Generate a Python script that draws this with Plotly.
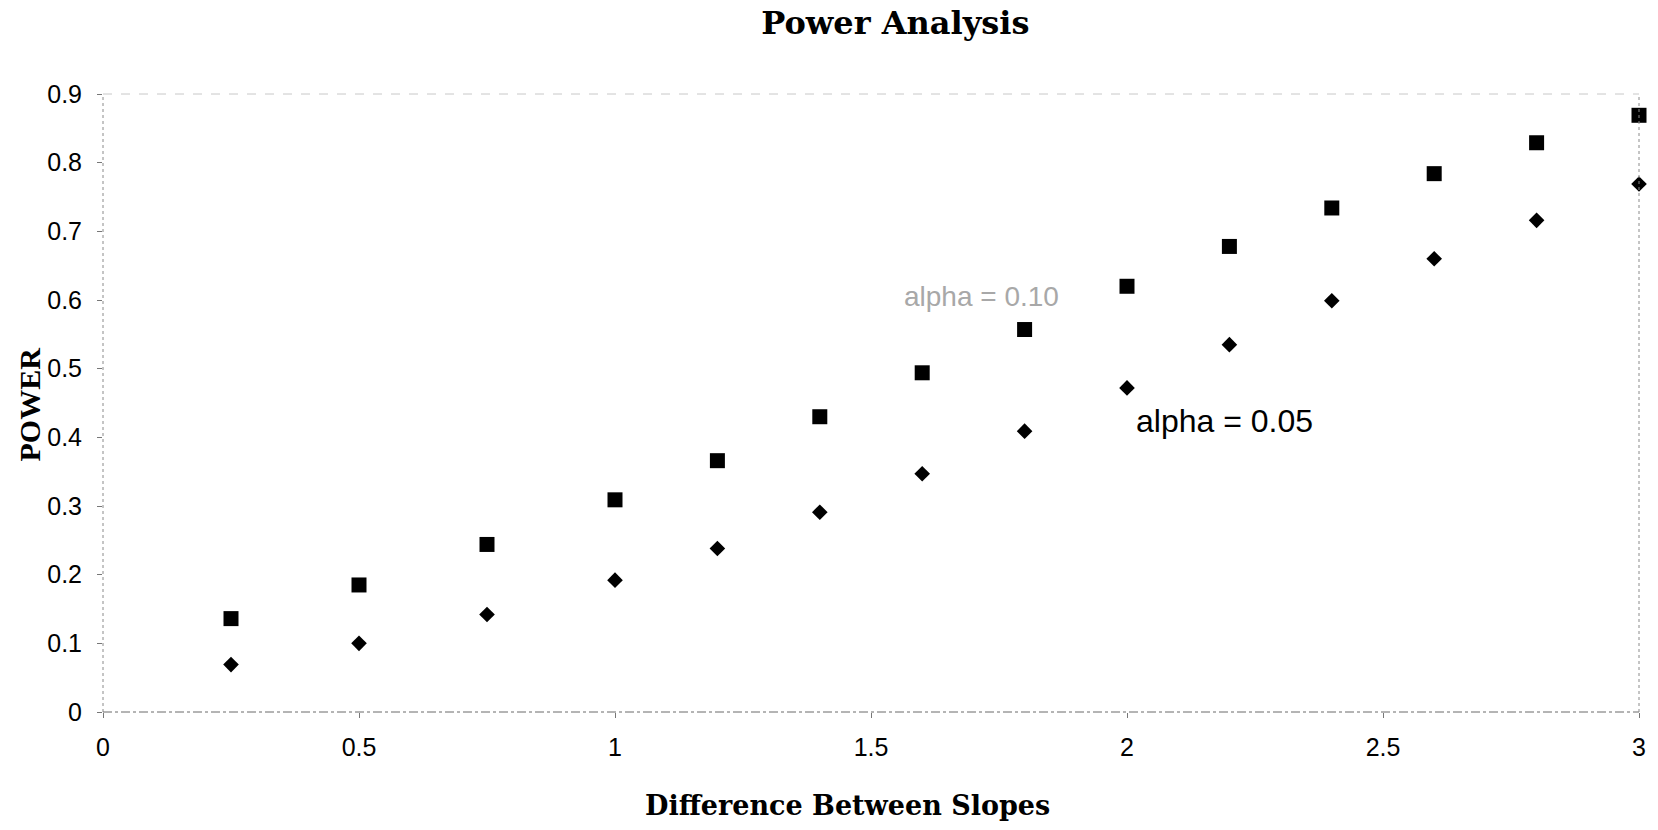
import plotly.graph_objects as go

# difference between slopes
slope_diff = [0.25, 0.5, 0.75, 1.0, 1.2, 1.4, 1.6, 1.8, 2.0, 2.2, 2.4, 2.6, 2.8, 3.0]
# power at alpha = 0.10 (squares) and alpha = 0.05 (diamonds)
power_a10 = [0.136, 0.185, 0.244, 0.309, 0.366, 0.430, 0.494, 0.557, 0.620, 0.678, 0.734, 0.784, 0.829, 0.869]
power_a05 = [0.069, 0.100, 0.142, 0.192, 0.238, 0.291, 0.347, 0.409, 0.472, 0.535, 0.599, 0.660, 0.716, 0.769]

x_ticks = [0, 0.5, 1, 1.5, 2, 2.5, 3]
x_ticklabels = ["0", "0.5", "1", "1.5", "2", "2.5", "3"]
y_ticks = [0, 0.1, 0.2, 0.3, 0.4, 0.5, 0.6, 0.7, 0.8, 0.9]
y_ticklabels = ["0", "0.1", "0.2", "0.3", "0.4", "0.5", "0.6", "0.7", "0.8", "0.9"]

fig = go.Figure()

fig.add_trace(go.Scatter(x=slope_diff, y=power_a10, mode="markers", name="alpha = 0.10",
                         marker=dict(symbol="square", size=15, color="black"), cliponaxis=False))
fig.add_trace(go.Scatter(x=slope_diff, y=power_a05, mode="markers", name="alpha = 0.05",
                         marker=dict(symbol="diamond", size=12, color="black"), cliponaxis=False))

# text labels for the two series
fig.add_annotation(x=1.715, y=0.605, text="alpha = 0.10", showarrow=False,
                   font=dict(family="Liberation Sans, Arial", size=28, color="#a8a8a8"))
fig.add_annotation(x=2.19, y=0.424, text="alpha = 0.05", showarrow=False,
                   font=dict(family="Liberation Sans, Arial", size=32, color="black"))

# axis titles
fig.add_annotation(xref="paper", yref="paper", x=0.485, y=-0.152, xanchor="center", yanchor="middle",
                   text="<b>Difference Between Slopes</b>", showarrow=False,
                   font=dict(family="DejaVu Serif", size=27, color="black"))
fig.add_annotation(xref="paper", yref="paper", x=-0.048, y=0.498, xanchor="center", yanchor="middle",
                   textangle=-90, text="<b>POWER</b>", showarrow=False,
                   font=dict(family="Liberation Serif, Times New Roman", size=30, color="black"))

# frame lines, scanned look (dotted / dash-dot greys)
fig.add_shape(type="line", xref="paper", yref="paper", x0=0, x1=0, y0=0, y1=1,
              line=dict(color="#8a8a8a", width=1, dash="dot"))
fig.add_shape(type="line", xref="paper", yref="paper", x0=0, x1=1, y0=0, y1=0,
              line=dict(color="#6a6a6a", width=1, dash="dashdot"))
fig.add_shape(type="line", xref="paper", yref="paper", x0=0, x1=1, y0=1, y1=1,
              line=dict(color="#c8c8c8", width=1, dash="dash"))
fig.add_shape(type="line", xref="paper", yref="paper", x0=1, x1=1, y0=0, y1=1,
              line=dict(color="#8a8a8a", width=1, dash="dot"))

fig.update_layout(
    width=1658, height=830,
    margin=dict(l=103, r=17, t=94, b=118),
    paper_bgcolor="white", plot_bgcolor="white",
    showlegend=False,
    title=dict(text="<b>Power Analysis</b>", x=0.54, xanchor="center",
               yref="container", y=0.973, yanchor="middle",
               font=dict(family="DejaVu Serif", size=32, color="black")),
    font=dict(family="Liberation Sans, Arial", size=25, color="black"),
)

fig.update_xaxes(range=[0, 3], tickvals=x_ticks, ticktext=x_ticklabels,
                 showgrid=False, zeroline=False, showline=False,
                 ticks="outside", ticklen=5, tickcolor="#777", ticklabelstandoff=8)
fig.update_yaxes(range=[0, 0.9], tickvals=y_ticks, ticktext=y_ticklabels,
                 showgrid=False, zeroline=False, showline=False,
                 ticks="outside", ticklen=5, tickcolor="#777", ticklabelstandoff=10)

fig.write_html("out.html", config={"displayModeBar": False},
               post_script="document.body.style.margin='0';")
